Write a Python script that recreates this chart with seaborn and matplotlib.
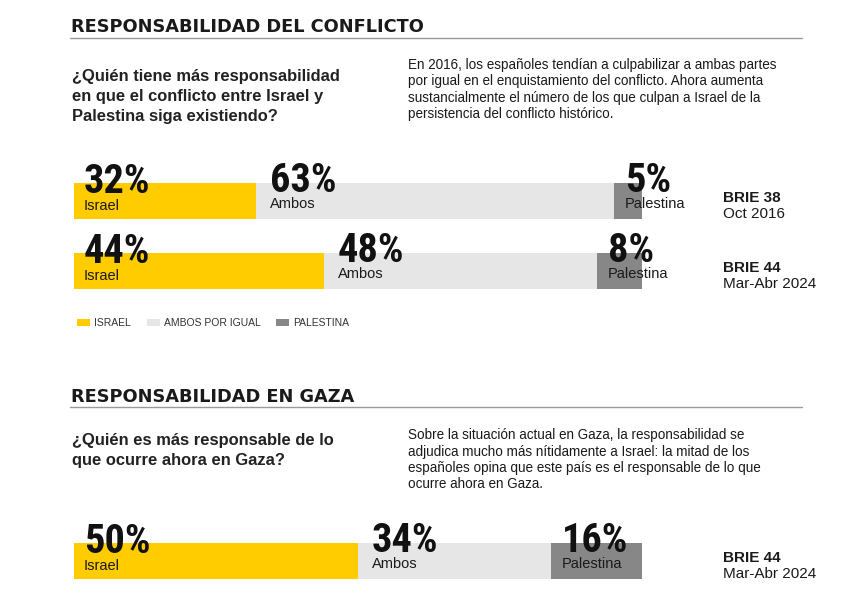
import pandas as pd
import numpy as np
import matplotlib
matplotlib.use("Agg")
import matplotlib.pyplot as plt
import seaborn as sns
from matplotlib import font_manager
from matplotlib.lines import Line2D
from matplotlib.patches import Patch
from matplotlib.transforms import offset_copy, blended_transform_factory

# data
series = ["Israel", "Ambos", "Palestina"]
legend_labels = ["ISRAEL", "AMBOS POR IGUAL", "PALESTINA"]
colors = ["#FFCC00", "#E6E6E6", "#878787"]

waves_top = ["BRIE 38", "BRIE 44"]
dates_top = ["Oct 2016", "Mar-Abr 2024"]
israel_top = [32, 44]
ambos_top = [63, 48]
palestina_top = [5, 8]

waves_gaza = ["BRIE 44"]
dates_gaza = ["Mar-Abr 2024"]
israel_gaza = [50]
ambos_gaza = [34]
palestina_gaza = [16]

title_top = "RESPONSABILIDAD DEL CONFLICTO"
question_top = ["¿Quién tiene más responsabilidad",
                "en que el conflicto entre Israel y",
                "Palestina siga existiendo?"]
body_top = ["En 2016, los españoles tendían a culpabilizar a ambas partes",
            "por igual en el enquistamiento del conflicto. Ahora aumenta",
            "sustancialmente el número de los que culpan a Israel de la",
            "persistencia del conflicto histórico."]

title_gaza = "RESPONSABILIDAD EN GAZA"
question_gaza = ["¿Quién es más responsable de lo",
                 "que ocurre ahora en Gaza?"]
body_gaza = ["Sobre la situación actual en Gaza, la responsabilidad se",
             "adjudica mucho más nítidamente a Israel: la mitad de los",
             "españoles opina que este país es el responsable de lo que",
             "ocurre ahora en Gaza."]

sns.set_theme(style="white")
plt.rcParams["font.family"] = ["Liberation Sans", "DejaVu Sans"]

names = {f.name for f in font_manager.fontManager.ttflist}
num_font = "DejaVu Sans"
for cand in ["Liberation Sans Narrow", "Roboto Condensed", "DejaVu Sans Condensed", "Open Sans Condensed"]:
    if cand in names:
        num_font = cand
        break

W, H = 866, 608
fig = plt.figure(figsize=(W / 100, H / 100), dpi=100)
fig.patch.set_facecolor("white")


def fx(px):
    return px / W


def fy(py):
    return 1 - py / H


dark = "#1a1a1a"

# header blocks
def header(title, title_base, rule_y, qlines, qbase, blines, bbase):
    fig.text(fx(71), fy(title_base), title, fontsize=12.8, fontweight="bold",
             family=["DejaVu Sans"], color=dark, va="baseline")
    fig.add_artist(Line2D([fx(70), fx(802)], [fy(rule_y), fy(rule_y)],
                          color="#9a9a9a", lw=1.0))
    for i, line in enumerate(qlines):
        fig.text(fx(72), fy(qbase + 20 * i), line, fontsize=11.9,
                 fontweight="bold", color="#222222", va="baseline")
    for i, line in enumerate(blines):
        fig.text(fx(408), fy(bbase + 16.3 * i), line, fontsize=9.75,
                 color=dark, va="baseline")


header(title_top, 32, 38, question_top, 81, body_top, 69)
header(title_gaza, 402, 407, question_gaza, 445, body_gaza, 439.3)

pad_x = {"Israel": 10, "Ambos": 14, "Palestina": 11}
num_dy = {"Israel": 8, "Ambos": 9, "Palestina": 9}
lab_dy = {"Israel": -9.5, "Ambos": -6.5, "Palestina": -6.5}
bar_w = 36 / 70


def draw_panel(ax, waves, dates, israel, ambos, palestina):
    df = pd.DataFrame({"wave": waves, "Israel": israel, "Ambos": ambos,
                       "Palestina": palestina})
    cum = df[series].cumsum(axis=1)
    for name, color in reversed(list(zip(series, colors))):
        sns.barplot(x=cum[name], y=df["wave"], orient="h", color=color,
                    saturation=1, width=bar_w, linewidth=0, ax=ax)
    ax.set_xlim(0, 100)
    ax.set_ylim(len(df) - 0.5, -0.5)
    ax.set_axis_off()

    for i in range(len(df)):
        for name in series:
            left = cum.loc[i, name] - df.loc[i, name]
            t_num = offset_copy(ax.transData, fig=fig, x=pad_x[name],
                                y=num_dy[name], units="dots")
            ax.text(left, i, f"{df.loc[i, name]}%", transform=t_num,
                    fontsize=29, fontweight="bold", family=num_font,
                    color="#111111", va="baseline", ha="left", clip_on=False)
            t_lab = offset_copy(ax.transData, fig=fig, x=pad_x[name],
                                y=lab_dy[name], units="dots")
            ax.text(left, i, name, transform=t_lab, fontsize=10.5,
                    color=dark, va="baseline", ha="left", clip_on=False)
        tr = blended_transform_factory(ax.transAxes, ax.transData)
        t_w = offset_copy(tr, fig=fig, x=0, y=-0.5, units="dots")
        t_d = offset_copy(tr, fig=fig, x=0, y=-17.5, units="dots")
        ax.text((723 - 74) / 568, i, df.loc[i, "wave"], transform=t_w,
                fontsize=11, fontweight="bold", color=dark, va="baseline",
                clip_on=False)
        ax.text((723 - 74) / 568, i, dates[i], transform=t_d,
                fontsize=11, color=dark, va="baseline", clip_on=False)


ax1 = fig.add_axes([fx(74), fy(306), 568 / W, 140 / H])
draw_panel(ax1, waves_top, dates_top, israel_top, ambos_top, palestina_top)

ax2 = fig.add_axes([fx(74), fy(596), 568 / W, 70 / H])
draw_panel(ax2, waves_gaza, dates_gaza, israel_gaza, ambos_gaza, palestina_gaza)

handles = [Patch(facecolor=c, edgecolor="none") for c in colors]
fig.legend(handles, legend_labels, loc="center left",
           bbox_to_anchor=(fx(77), fy(323.5)), ncol=3, frameon=False,
           fontsize=7.5, handlelength=1.25, handleheight=0.65,
           handletextpad=0.4, columnspacing=1.5, borderpad=0,
           borderaxespad=0, labelcolor="#333333")

fig.savefig("out.png", dpi=100, facecolor="white")
